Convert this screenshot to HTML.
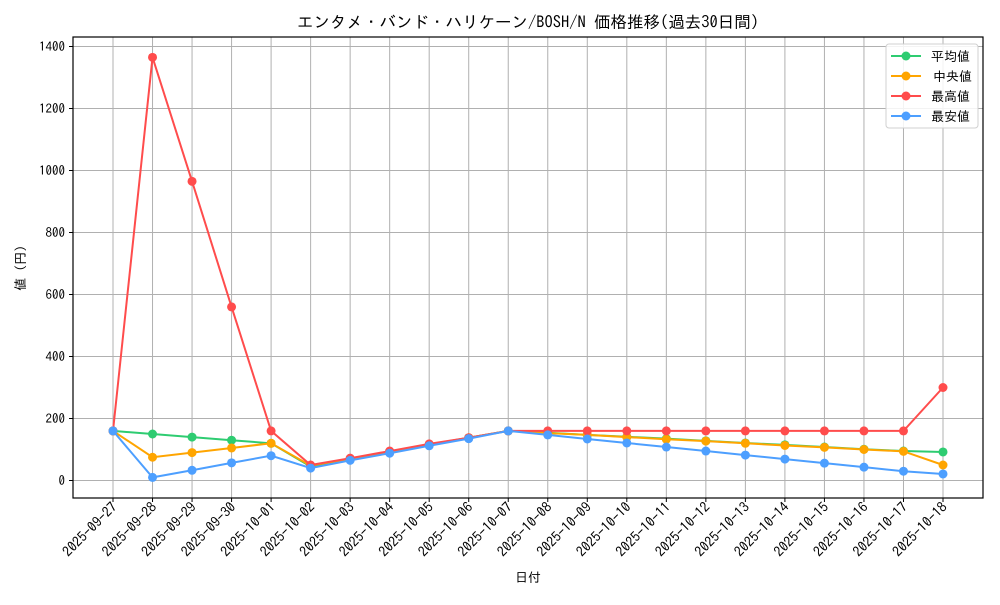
<!DOCTYPE html>
<html><head><meta charset="utf-8"><style>
body{margin:0;background:#fff}
svg text{font-family:"IPAGothic","Liberation Sans",sans-serif;fill:#000}
</style></head><body>
<svg id="s" width="1000" height="600" viewBox="0 0 1000 600" xmlns="http://www.w3.org/2000/svg">
<rect width="1000" height="600" fill="#fff"/>
<g id="grid" stroke="#b0b0b0" stroke-width="1"></g>
<g id="series"></g>
<rect x="73" y="37" width="910" height="461" fill="none" stroke="#000" stroke-width="1.2"/>
<g id="ticks" stroke="#000"></g>
<text x="528" y="28" font-size="16.5" text-anchor="middle">エンタメ・バンド・ハリケーン/BOSH/N 価格推移(過去30日間)</text>
<g font-size="13" text-anchor="end">
<text x="65" y="485">0</text>
<text x="65" y="423">200</text>
<text x="65" y="361">400</text>
<text x="65" y="299">600</text>
<text x="65" y="237">800</text>
<text x="65" y="175">1000</text>
<text x="65" y="113">1200</text>
<text x="65" y="51">1400</text>
</g>
<text x="0" y="0" font-size="13" text-anchor="middle" transform="translate(25,268) rotate(-90)">値 (円)</text>
<text x="528" y="582" font-size="13" text-anchor="middle">日付</text>
<g id="xl" font-size="14" text-anchor="end">
<text transform="translate(118,508) rotate(-45)">2025-09-27</text>
<text transform="translate(157.5,508) rotate(-45)">2025-09-28</text>
<text transform="translate(197,508) rotate(-45)">2025-09-29</text>
<text transform="translate(236.6,508) rotate(-45)">2025-09-30</text>
<text transform="translate(276.1,508) rotate(-45)">2025-10-01</text>
<text transform="translate(315.6,508) rotate(-45)">2025-10-02</text>
<text transform="translate(355.1,508) rotate(-45)">2025-10-03</text>
<text transform="translate(394.6,508) rotate(-45)">2025-10-04</text>
<text transform="translate(434.2,508) rotate(-45)">2025-10-05</text>
<text transform="translate(473.7,508) rotate(-45)">2025-10-06</text>
<text transform="translate(513.2,508) rotate(-45)">2025-10-07</text>
<text transform="translate(552.7,508) rotate(-45)">2025-10-08</text>
<text transform="translate(592.2,508) rotate(-45)">2025-10-09</text>
<text transform="translate(631.8,508) rotate(-45)">2025-10-10</text>
<text transform="translate(671.3,508) rotate(-45)">2025-10-11</text>
<text transform="translate(710.8,508) rotate(-45)">2025-10-12</text>
<text transform="translate(750.3,508) rotate(-45)">2025-10-13</text>
<text transform="translate(789.8,508) rotate(-45)">2025-10-14</text>
<text transform="translate(829.4,508) rotate(-45)">2025-10-15</text>
<text transform="translate(868.9,508) rotate(-45)">2025-10-16</text>
<text transform="translate(908.4,508) rotate(-45)">2025-10-17</text>
<text transform="translate(948,508) rotate(-45)">2025-10-18</text>
</g>
<g>
<rect x="886" y="44" width="92" height="84" rx="3" fill="#fff" fill-opacity="0.85" stroke="#d0d0d0"/>
<line x1="891" y1="56" x2="921" y2="56" stroke="#2ecc71" stroke-width="2"/><circle cx="906" cy="56" r="4.5" fill="#2ecc71"/>
<line x1="891" y1="76" x2="921" y2="76" stroke="#ffa500" stroke-width="2"/><circle cx="906" cy="76" r="4.5" fill="#ffa500"/>
<line x1="891" y1="96" x2="921" y2="96" stroke="#ff4c4c" stroke-width="2"/><circle cx="906" cy="96" r="4.5" fill="#ff4c4c"/>
<line x1="891" y1="116" x2="921" y2="116" stroke="#4d9fff" stroke-width="2"/><circle cx="906" cy="116" r="4.5" fill="#4d9fff"/>
<text x="931" y="61" font-size="13">平均値</text>
<text x="933" y="81" font-size="13">中央値</text>
<text x="931" y="101" font-size="13">最高値</text>
<text x="931" y="121" font-size="13">最安値</text>
</g>
</svg>
<script>
(function(){
var NS="http://www.w3.org/2000/svg";
function X(i){return 113+39.524*i}
function Y(v){return 480.5-0.31*v}
var g=document.getElementById("grid"),t=document.getElementById("ticks"),s=document.getElementById("series");
function el(p,n,a){var e=document.createElementNS(NS,n);for(var k in a)e.setAttribute(k,a[k]);p.appendChild(e);return e}
for(var i=0;i<22;i++){el(g,"line",{x1:X(i),x2:X(i),y1:37,y2:498});el(t,"line",{x1:X(i),x2:X(i),y1:498,y2:502})}
for(var v=0;v<=1400;v+=200){el(g,"line",{x1:73,x2:983,y1:Y(v),y2:Y(v)});el(t,"line",{x1:69,x2:73,y1:Y(v),y2:Y(v)})}
var data=[
["#2ecc71",[160,150,140,130,120,45,70,93,116,138,160,154,147,141,135,128,121,115,108,101,95,92]],
["#ffa500",[160,75,90,105,120,48,70,92,115,138,160,153,147,140,133,127,120,113,107,100,94,50]],
["#ff4c4c",[160,1365,965,560,160,50,72,95,118,138,160,160,160,160,160,160,160,160,160,160,160,300]],
["#4d9fff",[160,10,33,57,80,40,65,88,112,135,160,147,134,121,108,95,82,69,56,43,30,21]]];
data.forEach(function(d){
 var p=d[1].map(function(v,i){return X(i)+","+Y(v)}).join(" ");
 el(s,"polyline",{points:p,fill:"none",stroke:d[0],"stroke-width":2});
 d[1].forEach(function(v,i){el(s,"circle",{cx:X(i),cy:Y(v),r:4.5,fill:d[0]})});
});
})();
</script>
</body></html>
